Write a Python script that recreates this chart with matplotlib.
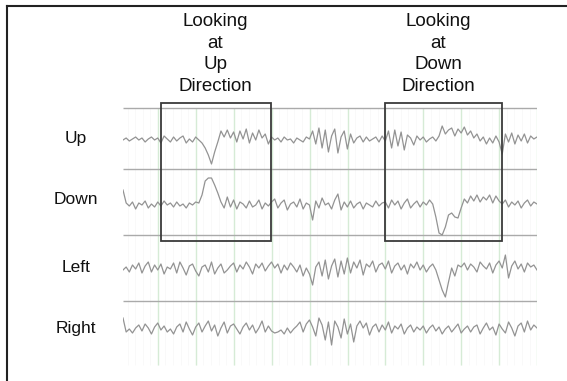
import numpy as np
import matplotlib
matplotlib.use("Agg")
import matplotlib.pyplot as plt
from matplotlib.lines import Line2D
from matplotlib.patches import Rectangle

# ---------------- data ----------------
fs = 12  # samples per second
channels = ["Up", "Down", "Left", "Right"]

up_vals = [0, 2, -1, 1, 3, 0, 2, -2, 1, 3, 0, 2,
           -3, 4, 1, -2, 3, -1, 2, 4, -3, 1, -2, 3,
           0, -3, -8, -15, -24, -12, -2, 9, 3, 10, 2, 8,
           -2, 9, 1, 11, -3, 7, 0, 10, 2, 6, -4, 3,
           0, 2, -2, 3, 0, 1, -3, 2, 0, -2, 3, 1,
           9, -4, 12, -8, 10, -12, 4, 11, -13, 3, 9, -9,
           6, -3, 2, 4, -2, 3, -1, 1, 3, -2, 4, -1,
           9, -8, 10, -6, 8, -10, 5, 2, -5, 4, 0, 3,
           -2, 1, 3, -1, 4, 14, 6, 10, 12, 4, 11, 7,
           13, 5, 9, 2, 6, -1, 3, -4, 2, -3, 4, -2,
           -14, 6, -2, 7, -4, 5, -1, 6, -3, 4, 1, 3]

down_vals = [15, 2, -1, 3, -4, 2, 0, 4, -3, 1, -2, 3,
             -1, 4, 0, 2, -2, 3, -1, 1, -3, 2, 0, 3,
             2, 10, 24, 27, 27, 20, 12, 3, -3, 8, -2, 5,
             -4, 3, 1, -3, 4, -2, 0, 5, -4, 2, -1, 3,
             6, -3, 2, 5, -5, 1, 3, -2, 6, -4, 2, 0,
             -15, 4, -3, 7, 0, 2, -4, 5, 11, -5, 3, -2,
             4, -3, 1, 3, -4, 2, 0, -2, 4, -1, 2, 3,
             -3, 5, 0, 4, -4, 2, 6, -3, 1, 4, -2, 3,
             0, 5, 1, -12, -28, -30, -22, -10, -8, -12, -13, -3,
             6, 2, 9, 4, 10, 3, 8, 5, 10, 2, 9, 4,
             1, 5, -2, 3, 0, 4, -3, 2, 5, -1, 3, 1]

left_vals = [0, 3, -2, 5, 1, 7, -3, 4, 8, -2, 5, 0,
             6, -4, 3, 1, 7, -3, 8, 2, -5, 4, 6, -1,
             -6, 3, 5, -2, 8, -4, 2, 6, -3, 0, 4, 7,
             -2, 5, 1, 8, 3, -4, 6, 2, 7, -1, 4, 8,
             2, 6, -3, 5, 0, 7, 3, -2, 5, -6, 2, -4,
             -15, 3, 8, -6, 10, -9, 4, 11, -7, 9, -4, 12,
             -3, 8, 2, 10, -5, 6, 3, 9, -2, 5, 7, 1,
             9, -3, 4, 7, 0, 5, -4, 6, 2, 8, 0, 5,
             -2, 3, 6, 0, -10, -20, -27, -12, 2, -6, 5, 3,
             7, 0, 6, 3, -2, 8, 4, 1, 7, -3, 5, 9,
             2, 15, -8, 4, 9, 1, 6, -2, 7, 3, 5, 0]

right_vals = [12, -2, 1, -3, 2, 5, -1, 6, 2, -4, 3, 7,
              0, 4, -2, 1, -4, 3, 6, -2, 8, 1, -5, 3,
              7, -2, 4, 9, -1, 5, -6, 2, 8, -3, 4, 6,
              1, -4, 3, 7, 0, 5, -3, 2, 9, -2, 4, -1,
              -3, -2, 0, -4, 2, -3, 1, 4, 8, -2, 6, 10,
              3, -6, 12, 5, -10, 8, -15, 9, 3, -8, 11, -4,
              6, -12, 4, 9, 2, 7, -5, 3, 6, -2, 5, 0,
              8, -3, 4, 1, 6, -4, 2, 5, -2, 3, 0, 4,
              -3, 2, 5, -1, 3, -4, 1, 4, -2, 2, 6, -3,
              1, 4, -2, 3, 5, -4, 2, 7, 0, 3, -5, 6,
              1, -3, 8, 2, -6, 4, 7, -2, 9, 0, 5, 2]

series = [up_vals, down_vals, left_vals, right_vals]
baselines = [230, 165, 100, 40]          # channel offsets
label_y = [231, 171, 102, 42]
separators = [262, 201, 135, 69]
grid_times = [0.92 + k for k in range(11)]
windows = [(1.00, 3.90), (6.91, 9.99)]   # seconds
window_titles = ["Looking\nat\nUp\nDirection", "Looking\nat\nDown\nDirection"]
title_x = [2.43, 8.31]

# ---------------- figure ----------------
W, H = 567, 381
fig = plt.figure(figsize=(W / 100, H / 100), dpi=100)
fig.patch.set_facecolor("white")
ax = fig.add_axes([123 / W, 11 / H, 414 / W, 270 / H])
n = len(up_vals)
t = np.arange(n) / fs
ax.set_xlim(0, t[-1])
ax.set_ylim(0, 270)
ax.axis("off")

# faint minor grid
for m in np.arange(0.12, t[-1], 0.2):
    ax.vlines(m, 5, 262, color="#f7f7f7", lw=0.5, zorder=0)
# major vertical grid
ax.vlines(grid_times, 5, 262, color="#d6ebd6", lw=1.0, zorder=1)
# horizontal separators
ax.hlines(separators, 0, t[-1], color="#aaaaaa", lw=1.0, zorder=1)

# traces
for vals, base in zip(series, baselines):
    ax.plot(t, base + np.array(vals), color="#939393", lw=0.9, zorder=3)

# windows
for (a, b) in windows:
    ax.add_patch(Rectangle((a, 129), b - a, 138, fill=False,
                           edgecolor="#3a3a3a", lw=1.3, zorder=4))

font = "Liberation Sans"
for x, txt in zip(title_x, window_titles):
    ax.text(x, 316, txt, ha="center", va="center", fontsize=13.5,
            family=font, linespacing=1.35, clip_on=False, color="#111111")

for name, y in zip(channels, label_y):
    ax.text(-1.24, y, name, ha="center", va="center", fontsize=12.5,
            family=font, clip_on=False, color="#111111")

# outer frame (left and top edges visible)
fig.add_artist(Line2D([7 / W, 7 / W], [0, 1 - 5.5 / H], color="#222222", lw=1.5))
fig.add_artist(Line2D([7 / W, 1], [1 - 5.5 / H, 1 - 5.5 / H], color="#222222", lw=1.5))

fig.savefig("out.png", dpi=100)
